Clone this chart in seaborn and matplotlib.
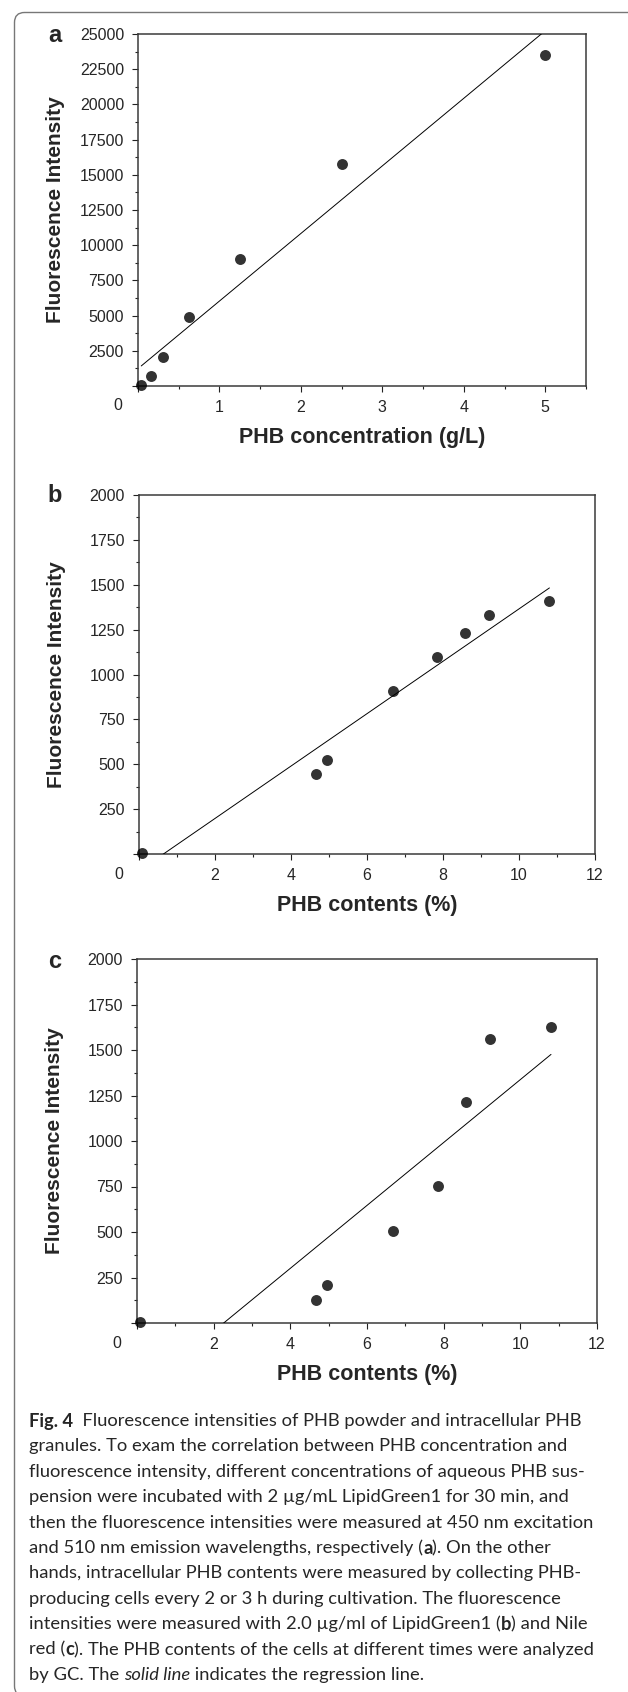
import numpy as np
import pandas as pd
import matplotlib
matplotlib.use("Agg")
import matplotlib.pyplot as plt
import seaborn as sns
from matplotlib.ticker import MultipleLocator, FuncFormatter
from matplotlib.patches import FancyBboxPatch
from matplotlib.transforms import IdentityTransform
from matplotlib.font_manager import FontProperties

# panel a: PHB powder suspension
conc_gl = [0.04, 0.156, 0.3125, 0.625, 1.25, 2.5, 5.0]
fi_powder = [40, 740, 2060, 4900, 9040, 15780, 23520]

# panels b, c: intracellular PHB contents
phb_pct = [0.07, 4.67, 4.96, 6.68, 7.84, 8.59, 9.20, 10.80]
fi_lipidgreen = [4, 445, 526, 908, 1097, 1230, 1334, 1412]
fi_nilered = [4, 128, 211, 503, 754, 1213, 1563, 1624]

caption_lines = [
    [("Fig. 4", "b"), ("  Fluorescence intensities of PHB powder and intracellular PHB", "n")],
    [("granules. To exam the correlation between PHB concentration and", "n")],
    [("fluorescence intensity, different concentrations of aqueous PHB sus-", "n")],
    [("pension were incubated with 2 \u00b5g/mL LipidGreen1 for 30 min, and", "n")],
    [("then the fluorescence intensities were measured at 450 nm excitation", "n")],
    [("and 510 nm emission wavelengths, respectively (", "n"), ("a", "b"), ("). On the other", "n")],
    [("hands, intracellular PHB contents were measured by collecting PHB-", "n")],
    [("producing cells every 2 or 3 h during cultivation. The fluorescence", "n")],
    [("intensities were measured with 2.0 \u00b5g/ml of LipidGreen1 (", "n"), ("b", "b"), (") and Nile", "n")],
    [("red (", "n"), ("c", "b"), ("). The PHB contents of the cells at different times were analyzed", "n")],
    [("by GC. The ", "n"), ("solid line", "i"), (" indicates the regression line.", "n")],
]

sns.set_style("ticks")
plt.rcParams["font.family"] = ["Liberation Sans", "DejaVu Sans"]

W, H = 628, 1692
fig = plt.figure(figsize=(W / 100, H / 100), dpi=100)


def px_axes(left, top, right, bottom):
    return fig.add_axes([left / W, 1 - bottom / H, (right - left) / W, (bottom - top) / H])


def zero_hidden(v, pos):
    return "" if abs(v) < 1e-9 else f"{v:g}"


def draw_panel(ax, x, y, xlabel, xmax, xmaj, xmin, ymax, ymaj, ymin, ylab_x, letter, letter_xy):
    df = pd.DataFrame({"x": x, "y": y})
    sns.regplot(data=df, x="x", y="y", ax=ax, ci=None, color="black", truncate=True,
                scatter_kws=dict(s=62, zorder=4, clip_on=False, linewidths=0),
                line_kws=dict(lw=0.7, zorder=3))
    ax.set_xlim(0, xmax)
    ax.set_ylim(0, ymax)
    ax.xaxis.set_major_locator(MultipleLocator(xmaj))
    ax.xaxis.set_minor_locator(MultipleLocator(xmin))
    ax.yaxis.set_major_locator(MultipleLocator(ymaj))
    ax.yaxis.set_minor_locator(MultipleLocator(ymin))
    ax.xaxis.set_major_formatter(FuncFormatter(zero_hidden))
    ax.yaxis.set_major_formatter(FuncFormatter(zero_hidden))
    ax.tick_params(which="major", length=4, width=0.8, labelsize=11.5, pad=6, color="#222")
    ax.tick_params(which="minor", length=2.5, width=0.8, color="#222")
    for s in ax.spines.values():
        s.set_visible(True)
        s.set_linewidth(1.1)
        s.set_color("#3a3a3a")
    ax.set_xlabel(xlabel, fontsize=15.5, fontweight="bold", labelpad=9)
    ax.set_ylabel("Fluorescence Intensity", fontsize=15, fontweight="bold")
    ax.yaxis.set_label_coords(ylab_x, 0.5)
    ax.annotate("0", xy=(0, 0), xycoords="axes fraction", xytext=(-20, -20),
                textcoords="offset pixels", ha="center", va="center", fontsize=11.5)
    fig.text(letter_xy[0] / W, 1 - letter_xy[1] / H, letter, fontsize=17,
             fontweight="bold", ha="center", va="center")


ax_a = px_axes(138, 34, 586, 386)
draw_panel(ax_a, conc_gl, fi_powder, "PHB concentration (g/L)", 5.5, 1, 0.5,
           25000, 2500, 1250, (65 - 138) / 448, "a", (55, 36))

ax_b = px_axes(139, 495, 595, 854)
draw_panel(ax_b, phb_pct, fi_lipidgreen, "PHB contents (%)", 12, 2, 1,
           2000, 250, 125, (66 - 139) / 456, "b", (55, 496))

ax_c = px_axes(137, 959, 597, 1323)
draw_panel(ax_c, phb_pct, fi_nilered, "PHB contents (%)", 12, 2, 1,
           2000, 250, 125, (64 - 137) / 460, "c", (55, 961))

# rounded page border
border = FancyBboxPatch((14.5, -4), 640, H - 12.5 + 4,
                        boxstyle="round,pad=0,rounding_size=10",
                        transform=IdentityTransform(), fill=False,
                        edgecolor="#777777", linewidth=1.0)
fig.patches.append(border)

# caption, drawn piece by piece so bold/italic runs line up
cap_font = "Lato"
cap_size = 13.2
renderer = fig.canvas.get_renderer()
styles = {"n": dict(weight="normal", style="normal"),
          "b": dict(weight="bold", style="normal"),
          "i": dict(weight="normal", style="italic")}


def seg_width(txt, st):
    fp = FontProperties(family=cap_font, size=cap_size, **styles[st])
    w1 = renderer.get_text_width_height_descent("|" + txt + "|", fp, ismath=False)[0]
    w0 = renderer.get_text_width_height_descent("||", fp, ismath=False)[0]
    return w1 - w0


for i, segs in enumerate(caption_lines):
    xp = 29
    yp = 1421 + i * 25.4
    for txt, st in segs:
        fig.text(xp / W, 1 - yp / H, txt, family=cap_font, fontsize=cap_size,
                 fontweight=styles[st]["weight"], fontstyle=styles[st]["style"],
                 ha="left", va="center")
        xp += seg_width(txt, st)

fig.savefig("out.png", dpi=100)
